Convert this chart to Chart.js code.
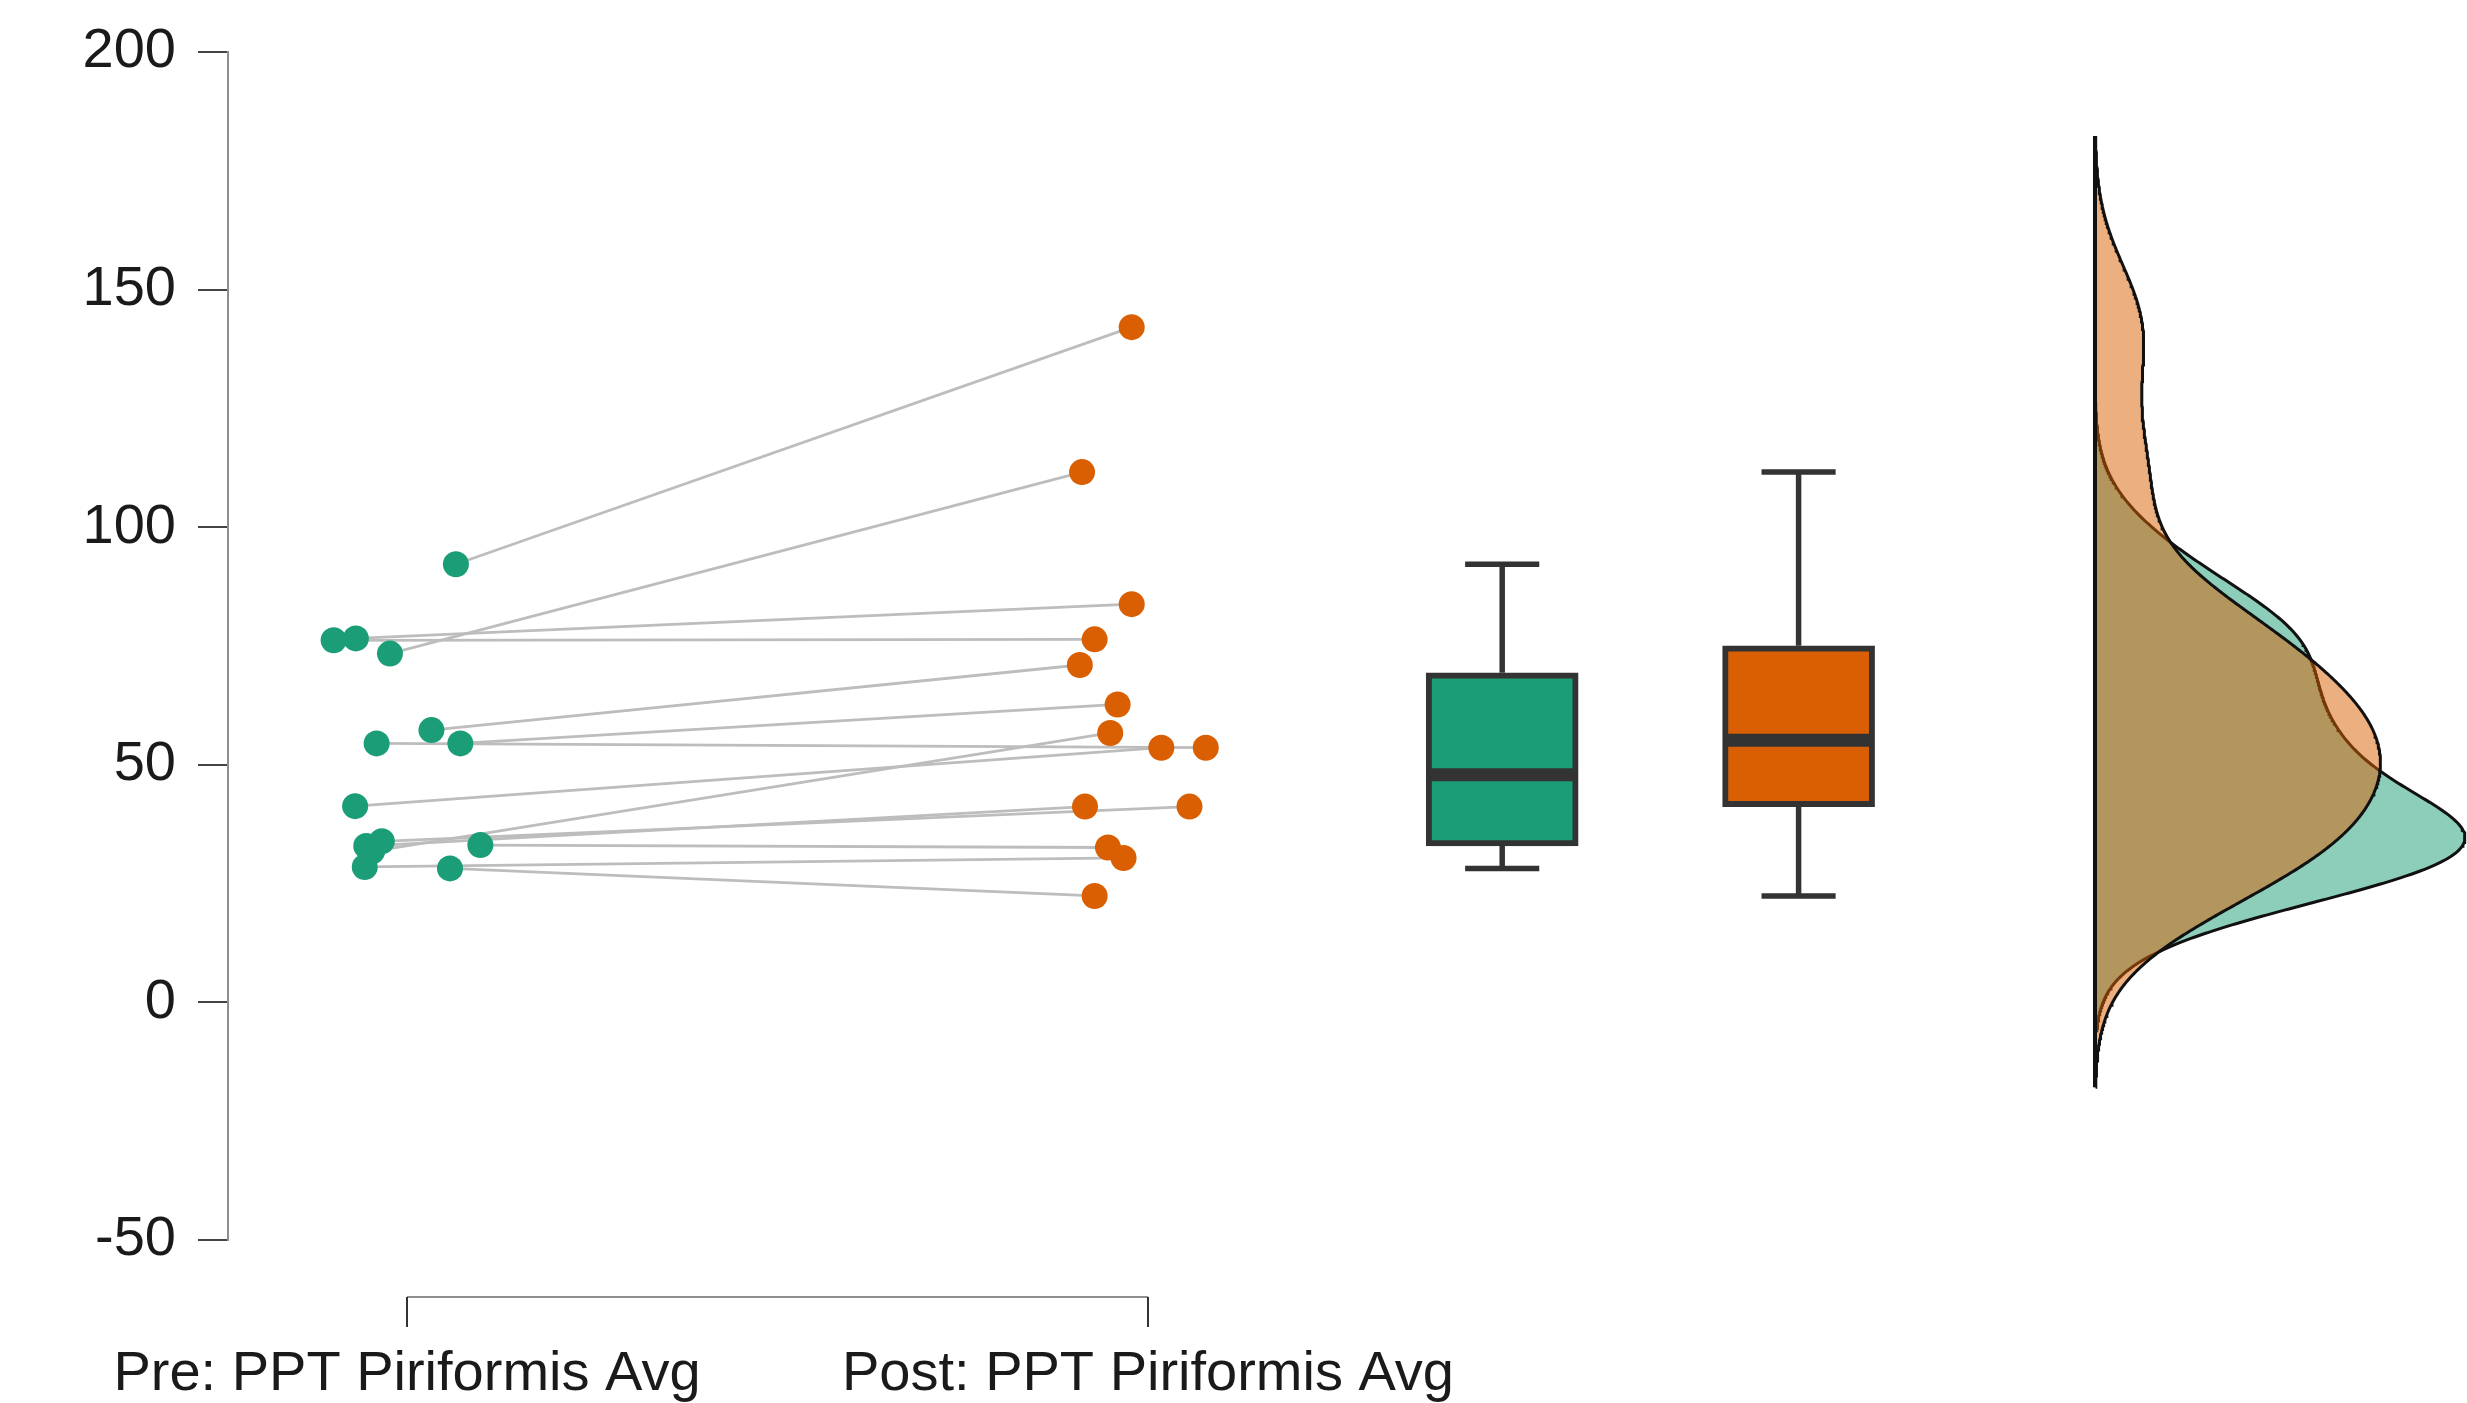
<!DOCTYPE html>
<html>
<head>
<meta charset="utf-8">
<script src="https://cdn.jsdelivr.net/npm/chart.js@4.4.1/dist/chart.umd.min.js"></script>
<style>
html, body { margin: 0; padding: 0; background: #ffffff; overflow: hidden; }
#wrap { width: 2467px; height: 1403px; position: relative; overflow: hidden; }
</style>
</head>
<body>
<div id="wrap"><canvas id="c"></canvas></div>
<script>
// ---------------- data ----------------
const categories = ['Pre: PPT Piriformis Avg', 'Post: PPT Piriformis Avg'];
// paired observations: preValues[i] is connected to postValues[i]
const preValues  = [92.2, 73.4, 76.6, 76.2, 57.3, 54.5, 54.5, 41.3, 31.8, 32.9, 33.9, 33.1, 28.5, 28.2];
const postValues = [142.1, 111.6, 83.8, 76.4, 71.0, 62.7, 53.6, 53.6, 56.7, 41.2, 41.2, 32.6, 30.4, 22.4];
// horizontal jitter of each point (in category units)
const preJitter  = [0.066, -0.023, -0.069, -0.099, 0.033, 0.072, -0.041, -0.070, -0.047, -0.055, -0.034, 0.099, -0.057, 0.058];
const postJitter = [-0.022, -0.089, -0.022, -0.072, -0.092, -0.041, 0.078, 0.018, -0.051, -0.085, 0.056, -0.054, -0.033, -0.072];
const yTicks = [-50, 0, 50, 100, 150, 200];

// ---------------- layout / style constants ----------------
const catPos = [1, 2];
const boxPos = [2.478, 2.878];
const densityBase = 3.278;
const densityWidth = 0.4993;
const colors = ['#1b9e77', '#d95f02'];
const densityFill = ['rgba(27,158,119,0.5)', 'rgba(217,95,2,0.5)'];
const FONT = "'Liberation Sans', Arial, Helvetica, sans-serif";

// ---------------- statistics derived from the data ----------------
function quantile(sorted, p) {
  const h = (sorted.length - 1) * p;
  const lo = Math.floor(h);
  const hi = Math.min(lo + 1, sorted.length - 1);
  return sorted[lo] + (h - lo) * (sorted[hi] - sorted[lo]);
}
function boxStats(values) {
  const s = [...values].sort((a, b) => a - b);
  const q1 = quantile(s, 0.25), q2 = quantile(s, 0.5), q3 = quantile(s, 0.75);
  const iqr = q3 - q1;
  const lo = Math.min(...s.filter(v => v >= q1 - 1.5 * iqr));
  const hi = Math.max(...s.filter(v => v <= q3 + 1.5 * iqr));
  return { q1, q2, q3, iqr, lo, hi, s };
}
function kde(values) {
  const st = boxStats(values);
  const n = values.length;
  const mean = values.reduce((a, b) => a + b, 0) / n;
  const sd = Math.sqrt(values.reduce((a, b) => a + (b - mean) * (b - mean), 0) / (n - 1));
  const bw = 0.9 * Math.min(sd, st.iqr / 1.34) * Math.pow(n, -0.2);
  const from = st.s[0] - 3 * bw, to = st.s[n - 1] + 3 * bw;
  const pts = [];
  const m = 512;
  for (let k = 0; k < m; k++) {
    const y = from + (to - from) * k / (m - 1);
    let d = 0;
    for (const v of values) { const z = (y - v) / bw; d += Math.exp(-0.5 * z * z); }
    d /= n * bw * Math.sqrt(2 * Math.PI);
    pts.push({ y, d });
  }
  return pts;
}

const groups = [preValues, postValues];
const stats = groups.map(boxStats);
const dens = groups.map(kde);
const maxD = Math.max(...dens.flat().map(p => p.d));

// ---------------- datasets ----------------
const datasets = [];

// density clouds
dens.forEach((pts, g) => {
  datasets.push({
    type: 'line',
    indexAxis: 'y',
    data: pts.map(p => ({ x: densityBase + densityWidth * p.d / maxD, y: p.y })),
    borderColor: '#111111',
    borderWidth: 3,
    backgroundColor: densityFill[g],
    fill: { value: densityBase },
    pointRadius: 0,
    tension: 0,
    clip: false,
    order: 60 - g * 5
  });
});
// density baseline
const allY = dens.flat().map(p => p.y);
datasets.push({
  type: 'line',
  data: [{ x: densityBase, y: Math.min(...allY) }, { x: densityBase, y: Math.max(...allY) }],
  borderColor: '#111111', borderWidth: 4, pointRadius: 0, fill: false, order: 50
});

// connecting lines
preValues.forEach((v, i) => {
  datasets.push({
    type: 'line',
    data: [{ x: catPos[0] + preJitter[i], y: v }, { x: catPos[1] + postJitter[i], y: postValues[i] }],
    borderColor: '#bdbdbd', borderWidth: 2.8, pointRadius: 0, fill: false, order: 40
  });
});

// whiskers and caps
stats.forEach((st, g) => {
  const c = boxPos[g];
  const segs = [
    [{ x: c, y: st.q3 }, { x: c, y: st.hi }],
    [{ x: c, y: st.lo }, { x: c, y: st.q1 }],
    [{ x: c - 0.05, y: st.hi }, { x: c + 0.05, y: st.hi }],
    [{ x: c - 0.05, y: st.lo }, { x: c + 0.05, y: st.lo }]
  ];
  segs.forEach(seg => datasets.push({
    type: 'line', data: seg, borderColor: '#333333', borderWidth: 5.5,
    pointRadius: 0, fill: false, order: 35
  }));
});

// boxes
datasets.push({
  type: 'bar',
  data: stats.map((st, g) => ({ x: boxPos[g], y: [st.q1, st.q3] })),
  backgroundColor: colors,
  borderColor: '#333333',
  borderWidth: 6,
  borderSkipped: false,
  barThickness: 152,
  order: 30
});

// medians
stats.forEach((st, g) => {
  const c = boxPos[g];
  datasets.push({
    type: 'line',
    data: [{ x: c - 0.098, y: st.q2 }, { x: c + 0.098, y: st.q2 }],
    borderColor: '#333333', borderWidth: 13, pointRadius: 0, fill: false, order: 20
  });
});

// points
groups.forEach((vals, g) => {
  const jit = g === 0 ? preJitter : postJitter;
  datasets.push({
    type: 'scatter',
    data: vals.map((v, i) => ({ x: catPos[g] + jit[i], y: v })),
    pointRadius: 13,
    pointBackgroundColor: colors[g],
    pointBorderWidth: 0,
    showLine: false,
    order: 0
  });
});

// bracket under the two categories
const bracketPlugin = {
  id: 'bracket',
  afterDraw(chart) {
    const xs = chart.scales.x;
    const ctx = chart.ctx;
    const x1 = xs.getPixelForValue(catPos[0]);
    const x2 = xs.getPixelForValue(catPos[1]);
    const y0 = xs.top + 57;
    ctx.save();
    ctx.strokeStyle = '#8f8f8f';
    ctx.lineWidth = 2;
    ctx.beginPath(); ctx.moveTo(x1, y0); ctx.lineTo(x2, y0); ctx.stroke();
    ctx.strokeStyle = '#333333';
    ctx.beginPath();
    ctx.moveTo(x1, y0); ctx.lineTo(x1, y0 + 30);
    ctx.moveTo(x2, y0); ctx.lineTo(x2, y0 + 30);
    ctx.stroke();
    ctx.restore();
  }
};

new Chart(document.getElementById('c'), {
  type: 'line',
  data: { datasets },
  plugins: [bracketPlugin],
  options: {
    responsive: true,
    maintainAspectRatio: false,
    devicePixelRatio: 1,
    animation: false,
    events: [],
    layout: { autoPadding: false, padding: { top: 52, right: 0, bottom: 0, left: 0 } },
    plugins: { legend: { display: false }, tooltip: { enabled: false } },
    scales: {
      x: {
        type: 'linear',
        offset: false,
        min: 0.75844,
        max: 3.78003,
        afterBuildTicks: s => { s.ticks = catPos.map(v => ({ value: v })); },
        ticks: {
          autoSkip: false, maxRotation: 0, minRotation: 0, padding: 101,
          font: { family: FONT, size: 56 }, color: '#1a1a1a',
          callback: (v, i) => categories[i]
        },
        grid: { display: false, drawTicks: false, offset: false },
        border: { display: false },
        afterFit: s => { s.height = 163; s.paddingLeft = 0; s.paddingRight = 0; }
      },
      y: {
        type: 'linear',
        offset: false,
        min: -50,
        max: 200,
        afterBuildTicks: s => { s.ticks = yTicks.map(v => ({ value: v })); },
        ticks: { font: { family: FONT, size: 56 }, color: '#1a1a1a', padding: 22 },
        grid: { drawOnChartArea: false, drawTicks: true, tickLength: 30, color: '#444444', lineWidth: 2 },
        border: { display: true, color: '#8f8f8f', width: 2 },
        afterFit: s => { s.width = 228; s.paddingTop = 0; s.paddingBottom = 0; }
      }
    }
  }
});
</script>
</body>
</html>
